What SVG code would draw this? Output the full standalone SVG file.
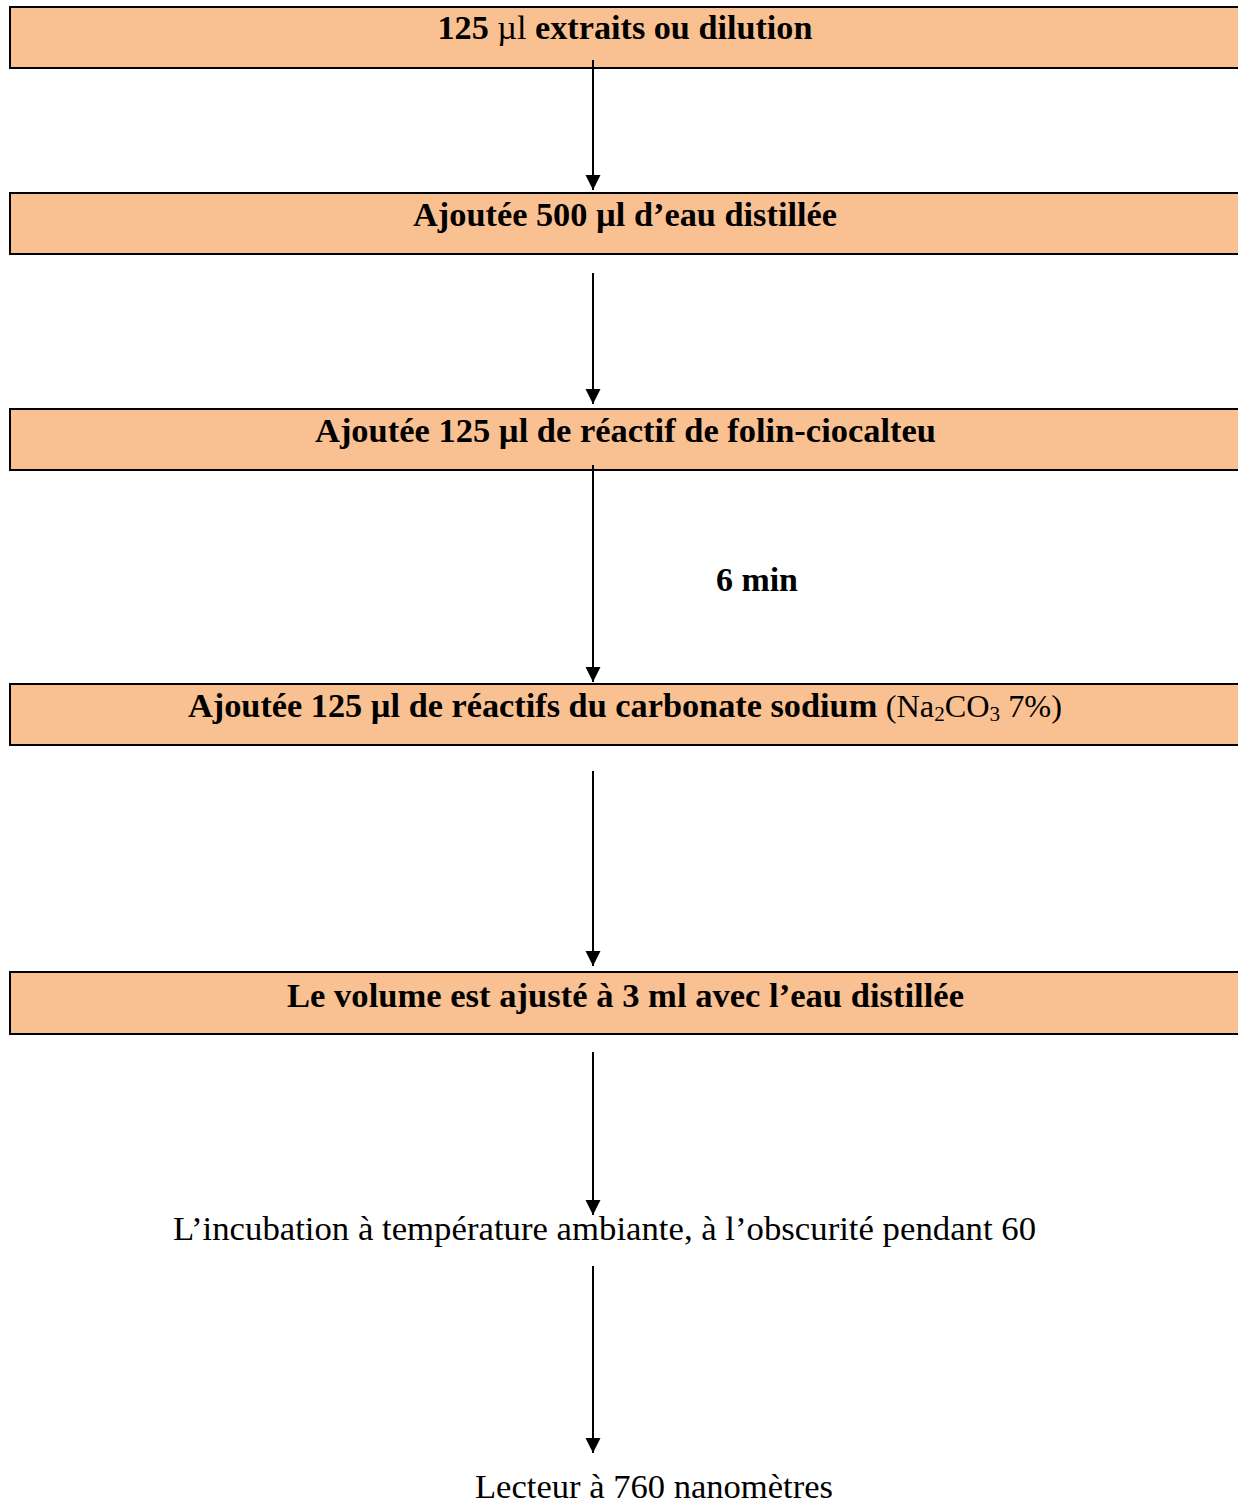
<svg xmlns="http://www.w3.org/2000/svg" width="1238" height="1503" viewBox="0 0 1238 1503">
<style>
.box{fill:#F9C192;stroke:#000;stroke-width:2}
.b{font-family:"Liberation Serif","Times New Roman",Times,serif;font-weight:bold;font-size:34px;fill:#000}
.r{font-family:"Liberation Serif","Times New Roman",Times,serif;font-weight:normal;font-size:34px;fill:#000}
.ln{stroke:#000;stroke-width:2;fill:none}
</style>
<defs>
<marker id="ah" markerUnits="userSpaceOnUse" markerWidth="15" markerHeight="16" refX="15" refY="7.5" orient="auto" viewBox="0 0 15 15">
<path d="M0,0 L15,7.5 L0,15 Z" fill="#000"/>
</marker>
</defs>
<rect width="1238" height="1503" fill="#fff"/>
<g id="n1"><rect class="box" x="10" y="7" width="1240" height="61"/>
<text class="b" x="625" y="39" text-anchor="middle" textLength="375" lengthAdjust="spacingAndGlyphs">125 <tspan font-weight="normal">µl</tspan> extraits ou dilution</text></g>
<g id="n2"><rect class="box" x="10" y="193" width="1240" height="61"/>
<text class="b" x="625" y="226" text-anchor="middle" textLength="424" lengthAdjust="spacingAndGlyphs">Ajoutée 500 µl d’eau distillée</text></g>
<g id="n3"><rect class="box" x="10" y="409" width="1240" height="61"/>
<text class="b" x="625.5" y="442" text-anchor="middle" textLength="621" lengthAdjust="spacingAndGlyphs">Ajoutée 125 µl de réactif de folin-ciocalteu</text></g>
<g id="n4"><rect class="box" x="10" y="684" width="1240" height="61"/>
<text class="b" x="188" y="717" textLength="874" lengthAdjust="spacingAndGlyphs">Ajoutée 125 µl de réactifs du carbonate sodium <tspan font-weight="normal" font-size="32">(Na</tspan><tspan font-weight="normal" font-size="21" dy="4">2</tspan><tspan font-weight="normal" font-size="32" dy="-4">CO</tspan><tspan font-weight="normal" font-size="21" dy="4">3</tspan><tspan font-weight="normal" font-size="32" dy="-4"> 7%)</tspan></text></g>
<g id="n5"><rect class="box" x="10" y="972" width="1240" height="62"/>
<text class="b" x="625.5" y="1007" text-anchor="middle" textLength="677" lengthAdjust="spacingAndGlyphs">Le volume est ajusté à 3 ml avec l’eau distillée</text></g>
<g id="n6"><text class="r" x="604.5" y="1240" text-anchor="middle" textLength="863" lengthAdjust="spacingAndGlyphs">L’incubation à température ambiante, à l’obscurité pendant 60</text></g>
<g id="n7"><text class="r" x="654" y="1498" text-anchor="middle" textLength="358" lengthAdjust="spacingAndGlyphs">Lecteur à 760 nanomètres</text></g>
<g id="lbl"><text class="b" x="757" y="591" text-anchor="middle" textLength="82" lengthAdjust="spacingAndGlyphs">6 min</text></g>
<g id="connectors">
<line class="ln" x1="593" y1="60" x2="593" y2="190" marker-end="url(#ah)"/>
<line class="ln" x1="593" y1="273" x2="593" y2="404" marker-end="url(#ah)"/>
<line class="ln" x1="593" y1="465" x2="593" y2="682" marker-end="url(#ah)"/>
<line class="ln" x1="593" y1="771" x2="593" y2="966" marker-end="url(#ah)"/>
<line class="ln" x1="593" y1="1052" x2="593" y2="1215" marker-end="url(#ah)"/>
<line class="ln" x1="593" y1="1266" x2="593" y2="1453" marker-end="url(#ah)"/>
</g>
</svg>
